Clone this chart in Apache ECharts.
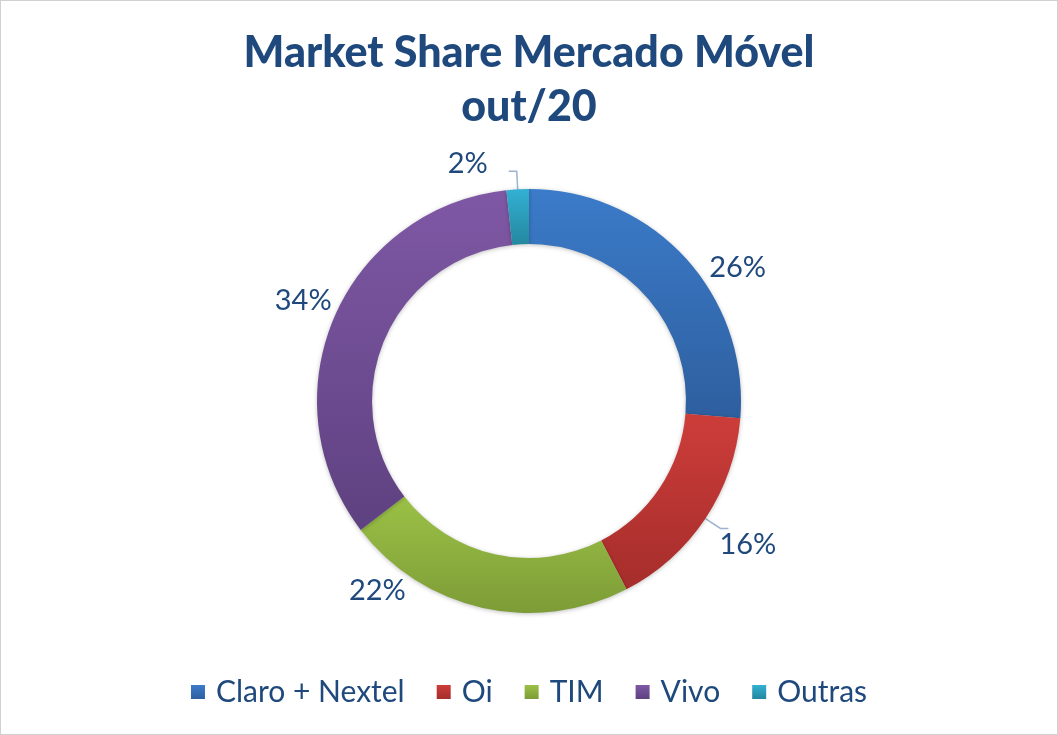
<!DOCTYPE html>
<html>
<head>
<meta charset="utf-8">
<script src="https://cdn.jsdelivr.net/npm/echarts@6/dist/echarts.min.js"></script>
<style>
html,body{margin:0;padding:0;background:#fff;}
#chart{width:1056px;height:733px;border:1px solid #d0d0d0;}
</style>
</head>
<body>
<div id="chart"></div>
<script>
var categories = ['Claro + Nextel', 'Oi', 'TIM', 'Vivo', 'Outras'];
var shares = [26.3, 16.1, 22.2, 33.7, 1.7];
var colorsTop = ['#3b7bc9', '#cd3d3a', '#9bc146', '#7f58a5', '#33b0d3'];
var colorsBottom = ['#2e5f9f', '#a52d2b', '#7d9c37', '#5e4180', '#24879f'];
var withLine = [false, true, false, false, true];
// nudges to put the labels where Excel put them
var labelNudge = [[-2, 22], [-14, 16], [-60, -35], [27, -10], [-16, -8]];

var textColor = '#1f497d';
var font = 'Lato, "Open Sans", sans-serif';

var myChart = echarts.init(document.getElementById('chart'));

var seriesData = [];
for (var i = 0; i < categories.length; i++) {
	seriesData.push({
		name: categories[i],
		value: shares[i],
		itemStyle: {
			color: new echarts.graphic.LinearGradient(0, 0, 0, 1, [
				{ offset: 0, color: colorsTop[i] },
				{ offset: 1, color: colorsBottom[i] }
			])
		},
		labelLine: { show: withLine[i] }
	});
}

var option = {
	color: colorsTop,
	title: {
		text: 'Market Share Mercado Móvel\nout/20',
		left: 'center',
		top: 20,
		textStyle: {
			color: textColor,
			fontFamily: font,
			fontWeight: 900,
			fontSize: 43,
			lineHeight: 54
		}
	},
	legend: {
		bottom: 22,
		left: 'center',
		itemWidth: 14,
		itemHeight: 14,
		itemGap: 32,
		icon: 'rect',
		textStyle: { color: textColor, fontFamily: font, fontSize: 30, padding: [0, 0, 0, 6] },
		data: categories
	},
	series: [{
		type: 'pie',
		center: ['50%', 400],
		radius: [157, 212],
		startAngle: 90,
		clockwise: true,
		avoidLabelOverlap: false,
		data: seriesData,
		itemStyle: { borderWidth: 0, shadowColor: 'rgba(0,0,0,0.25)', shadowBlur: 4, shadowOffsetY: 1 },
		label: {
			show: true,
			position: 'outside',
			formatter: function (p) { return Math.round(p.value) + '%'; },
			color: textColor,
			fontFamily: font,
			fontSize: 29
		},
		labelLine: {
			length: 18,
			length2: 8,
			lineStyle: { color: '#9db3cf', width: 1.5 }
		},
		labelLayout: function (params) {
			var n = labelNudge[params.dataIndex];
			return { dx: n[0], dy: n[1] };
		},
		emphasis: { disabled: true }
	}]
};
myChart.setOption(option);
</script>
</body>
</html>
